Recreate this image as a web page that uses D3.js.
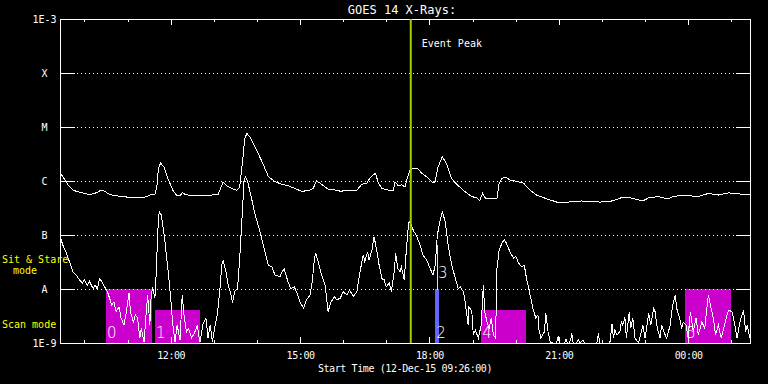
<!DOCTYPE html>
<html lang="en">
<head>
<meta charset="UTF-8" />
<title>GOES 14 X-Rays</title>
<script src="https://d3js.org/d3.v7.min.js"></script>
<style>
  body { margin: 0; background: #000; }
  svg { display: block; background: #000; }
  text { font-family: 'DejaVu Sans Mono', monospace; font-size: 10px; fill: #fff; }
  .axis line, .frame { stroke: #fff; fill: none; shape-rendering: crispEdges; }
  .axis path.domain { display: none; }
  .grid line { stroke: #fff; stroke-dasharray: 1,3; shape-rendering: crispEdges; }
  .flux { fill: none; stroke: #fff; stroke-width: 1; shape-rendering: crispEdges; }
  .yellow { fill: #ff0; }
  .boxnum { font-family: 'DejaVu Sans', sans-serif; font-weight: 200; font-size: 15px; }
</style>
</head>
<body>
<svg width="768" height="384"></svg>
<script>
// start of the plot, span 16 h
const startTime = new Date(Date.UTC(2015, 11, 12, 9, 26));
const spanMinutes = 960;

const levelValues = [1e-9, 1e-8, 1e-7, 1e-6, 1e-5, 1e-4, 1e-3];
const levelLabels = ["1E-9", "A", "B", "C", "M", "X", "1E-3"];

// [minutes after start, log10 flux W/m^2]
const longFlux = [
  [0,-5.85],[1,-5.86],[4,-5.92],[11,-6.07],[18,-6.17],[25,-6.20],[34,-6.23],[41,-6.25],[48,-6.23],[53,-6.20],
  [57,-6.17],[62,-6.19],[69,-6.25],[81,-6.28],[95,-6.30],[104,-6.31],[118,-6.30],[127,-6.25],[132,-6.26],
  [135,-6.07],[137,-5.76],[140,-5.67],[145,-5.75],[150,-5.95],[157,-6.17],[162,-6.26],[168,-6.26],[170,-6.21],
  [174,-6.25],[183,-6.27],[194,-6.27],[211,-6.26],[220,-6.25],[227,-6.02],[232,-6.09],[239,-6.14],[246,-6.17],
  [250,-6.11],[254,-5.64],[257,-5.21],[260,-5.12],[264,-5.18],[271,-5.36],[281,-5.64],[290,-5.92],[299,-6.01],
  [308,-6.06],[318,-6.09],[327,-6.14],[336,-6.19],[345,-6.18],[352,-6.14],[357,-6.00],[364,-6.06],[373,-6.15],
  [385,-6.17],[390,-6.19],[403,-6.17],[413,-6.17],[420,-6.06],[427,-6.04],[431,-5.95],[436,-5.88],[439,-5.86],
  [443,-6.04],[448,-6.14],[457,-6.17],[464,-6.17],[466,-6.02],[471,-6.09],[475,-6.07],[480,-6.11],[483,-5.95],
  [487,-5.80],[492,-5.76],[497,-5.76],[503,-5.85],[512,-5.94],[519,-6.04],[522,-6.01],[526,-5.74],[532,-5.55],
  [538,-5.69],[545,-5.96],[552,-6.06],[561,-6.17],[573,-6.29],[580,-6.31],[584,-6.36],[588,-6.23],[592,-6.32],
  [598,-6.33],[608,-6.32],[611,-6.04],[615,-5.95],[620,-5.93],[626,-5.98],[633,-6.00],[645,-6.04],[654,-6.17],
  [663,-6.26],[675,-6.32],[691,-6.39],[707,-6.39],[726,-6.37],[740,-6.38],[751,-6.39],[765,-6.38],[770,-6.36],
  [781,-6.31],[793,-6.31],[802,-6.34],[811,-6.37],[819,-6.31],[832,-6.29],[846,-6.33],[853,-6.29],[865,-6.26],
  [881,-6.28],[890,-6.28],[902,-6.23],[916,-6.26],[930,-6.22],[946,-6.24],[960,-6.26]
];

const shortFlux = [
  [0,-7.03],[1,-7.06],[4,-7.19],[9,-7.34],[13,-7.49],[18,-7.68],[23,-7.75],[27,-7.83],[31,-7.89],[34,-7.83],
  [38,-7.94],[41,-7.86],[46,-7.99],[49,-7.93],[52,-8.00],[55,-7.81],[58,-7.86],[62,-7.96],[66,-8.05],[69,-8.17],
  [72,-8.30],[75,-8.24],[78,-8.42],[82,-8.33],[85,-8.54],[89,-8.67],[92,-8.45],[96,-8.08],[98,-8.42],[102,-8.61],
  [105,-8.48],[108,-8.54],[111,-8.91],[113,-8.73],[117,-8.98],[120,-8.42],[122,-8.11],[125,-8.67],[127,-8.08],
  [129,-7.99],[132,-8.17],[134,-7.68],[136,-6.94],[138,-6.56],[141,-6.63],[145,-7.00],[148,-7.37],[151,-7.74],
  [154,-8.17],[157,-8.67],[160,-8.98],[163,-8.67],[167,-8.94],[170,-8.12],[173,-8.54],[176,-8.79],[179,-8.73],
  [183,-8.91],[187,-8.82],[191,-8.67],[194,-8.94],[195,-8.98],[199,-8.64],[203,-8.54],[206,-8.91],[209,-8.67],
  [212,-8.98],[215,-8.73],[218,-8.54],[220,-8.33],[223,-7.93],[225,-7.56],[227,-7.48],[231,-7.68],[234,-7.93],
  [238,-8.11],[240,-8.26],[243,-8.05],[247,-7.99],[250,-7.43],[254,-6.51],[256,-6.01],[258,-5.92],[261,-6.01],
  [266,-6.29],[271,-6.60],[277,-6.88],[281,-7.09],[285,-7.31],[290,-7.56],[295,-7.59],[299,-7.74],[306,-7.77],
  [309,-7.68],[312,-7.63],[317,-7.86],[321,-7.99],[326,-7.96],[329,-8.05],[334,-8.24],[339,-8.36],[343,-8.20],
  [348,-8.11],[351,-7.86],[354,-7.43],[356,-7.34],[359,-7.49],[364,-7.74],[369,-7.93],[373,-8.42],[377,-8.24],
  [382,-8.14],[385,-8.20],[390,-8.17],[394,-8.05],[399,-8.11],[403,-8.02],[408,-8.14],[413,-8.05],[416,-7.80],
  [420,-7.49],[422,-7.37],[424,-7.49],[428,-7.31],[430,-7.46],[434,-7.28],[437,-7.03],[441,-7.31],[444,-7.56],
  [448,-7.81],[451,-7.83],[454,-7.96],[458,-7.89],[461,-8.05],[465,-7.68],[467,-7.34],[470,-7.62],[473,-7.68],
  [475,-7.59],[479,-7.83],[481,-7.43],[485,-6.78],[487,-6.75],[492,-6.93],[496,-7.01],[501,-7.19],[505,-7.37],
  [510,-7.46],[515,-7.62],[519,-7.74],[522,-7.56],[525,-7.00],[529,-6.72],[532,-6.58],[536,-6.75],[540,-7.19],
  [545,-7.56],[550,-7.80],[554,-7.99],[557,-7.96],[561,-8.05],[563,-8.17],[566,-8.48],[568,-8.67],[569,-8.33],
  [573,-8.42],[575,-8.85],[578,-8.76],[582,-8.91],[586,-8.67],[589,-7.93],[591,-8.42],[594,-8.61],[597,-8.73],
  [600,-8.54],[603,-8.85],[606,-8.91],[608,-7.62],[611,-7.28],[615,-7.15],[618,-7.09],[621,-7.15],[626,-7.31],
  [631,-7.43],[634,-7.39],[638,-7.52],[642,-7.59],[646,-7.56],[649,-7.80],[654,-8.11],[658,-8.36],[662,-8.54],
  [665,-8.48],[666,-8.73],[669,-8.91],[674,-8.79],[676,-8.45],[679,-8.79],[682,-8.98],[686,-9.20],[691,-9.20],
  [693,-8.88],[695,-9.20],[702,-9.20],[704,-8.92],[706,-9.20],[709,-9.20],[711,-8.90],[712,-8.82],[714,-9.20],
  [719,-9.20],[721,-8.93],[723,-9.20],[728,-8.95],[730,-9.20],[747,-9.20],[749,-8.82],[751,-9.20],[765,-9.20],
  [768,-8.65],[770,-8.91],[772,-8.76],[775,-8.85],[779,-8.79],[781,-8.61],[783,-8.67],[786,-8.53],[788,-8.91],
  [792,-8.42],[794,-8.73],[797,-8.54],[800,-8.91],[805,-9.20],[811,-8.67],[814,-8.91],[819,-8.45],[822,-8.67],
  [826,-8.36],[828,-8.42],[831,-8.73],[835,-8.91],[837,-8.67],[842,-8.85],[844,-8.91],[849,-8.67],[852,-8.33],
  [856,-8.11],[858,-8.36],[862,-8.54],[865,-8.73],[867,-8.61],[871,-8.67],[874,-8.91],[877,-8.42],[881,-8.79],
  [885,-8.54],[888,-8.85],[893,-8.61],[897,-8.73],[902,-8.11],[905,-8.30],[909,-8.54],[912,-8.85],[916,-8.67],
  [920,-8.91],[925,-8.64],[930,-8.39],[935,-8.42],[939,-8.67],[942,-8.91],[946,-8.61],[951,-8.39],[954,-8.79],
  [956,-8.67],[960,-8.91]
];

// observing windows: minutes after start, log10 flux top/bottom
const windowIds    = ["0", "1", "2", "3", "4", "5"];
const windowKinds  = ["scan", "scan", "stare", "stareHi", "scan", "scan"];
const windowStart  = [64, 132, 522, 524.5, 586, 870];
const windowEnd    = [128, 195, 527, 524.5, 648, 934];
const windowTop    = [-8, -8.38, -8, -7.19, -8.38, -8];
const windowBottom = [-9, -9, -9, -8, -9, -9];

const eventPeakMinute = 488;

const margin = {left: 60, right: 18, top: 19, bottom: 41};
const W = 768, H = 384;
const x0 = margin.left, x1 = W - margin.right, y0 = margin.top, y1 = H - margin.bottom;

const svg = d3.select("svg");
const toDate = m => new Date(+startTime + m * 60000);

const x = d3.scaleUtc().domain([startTime, toDate(spanMinutes)]).range([x0, x1]);
const y = d3.scaleLog().domain([1e-9, 1e-3]).range([y1, y0]).clamp(true);

const kindColor = {scan: "#cc00cc", stare: "#6464ff", stareHi: "#ffff00"};

// windows
const win = svg.append("g");
windowIds.forEach((id, i) => {
  const xa = x(toDate(windowStart[i])), xb = x(toDate(windowEnd[i]));
  const yb = y(10 ** windowBottom[i]);
  win.append("rect")
    .attr("x", xa)
    .attr("y", y(10 ** windowTop[i]))
    .attr("width", Math.max(1, xb - xa))
    .attr("height", yb - y(10 ** windowTop[i]))
    .attr("fill", kindColor[windowKinds[i]])
    .attr("shape-rendering", "crispEdges");
  win.append("text")
    .attr("class", "boxnum")
    .attr("x", xa + 1)
    .attr("y", windowKinds[i] === "stareHi" ? yb - 11 : yb - 5)
    .text(id);
});

// dotted level lines
svg.append("g").attr("class", "grid")
  .selectAll("line")
  .data(levelValues.slice(1, -1))
  .join("line")
  .attr("x1", x0 + 17).attr("x2", x1 - 15)
  .attr("y1", d => y(d)).attr("y2", d => y(d));

// flux curves
const line = d3.line()
  .x(d => x(toDate(d[0])))
  .y(d => y(10 ** d[1]));

svg.append("path").datum(longFlux).attr("class", "flux").attr("d", line);
svg.append("path").datum(shortFlux).attr("class", "flux").attr("d", line);

// axes
svg.append("g").attr("class", "axis")
  .attr("transform", `translate(0,${y1})`)
  .call(d3.axisBottom(x).ticks(d3.utcHour.every(1)).tickSize(-3).tickFormat(""));
svg.append("g").attr("class", "axis")
  .attr("transform", `translate(0,${y1})`)
  .call(d3.axisBottom(x).ticks(d3.utcHour.every(3)).tickSize(-6).tickPadding(9)
    .tickFormat(d3.utcFormat("%H:%M")))
  .selectAll("text").attr("letter-spacing", -0.4);
svg.append("g").attr("class", "axis")
  .attr("transform", `translate(0,${y0})`)
  .call(d3.axisTop(x).ticks(d3.utcHour.every(1)).tickSize(-3).tickFormat(""));
svg.append("g").attr("class", "axis")
  .attr("transform", `translate(0,${y0})`)
  .call(d3.axisTop(x).ticks(d3.utcHour.every(3)).tickSize(-6).tickFormat(""));

svg.append("g").attr("class", "axis")
  .attr("transform", `translate(${x0},0)`)
  .call(d3.axisLeft(y).tickValues(levelValues).tickSize(-15).tickPadding(15.5)
    .tickFormat((d, i) => levelLabels[i]))
  .selectAll("text").attr("text-anchor", "middle");
svg.append("g").attr("class", "axis")
  .attr("transform", `translate(${x1},0)`)
  .call(d3.axisRight(y).tickValues(levelValues).tickSize(-14).tickFormat(""));

svg.append("rect").attr("class", "frame")
  .attr("x", x0).attr("y", y0).attr("width", x1 - x0).attr("height", y1 - y0);

// event peak
const xe = x(toDate(eventPeakMinute));
svg.append("line")
  .attr("x1", xe).attr("x2", xe).attr("y1", y0).attr("y2", y1)
  .attr("stroke", "#a0d000").attr("stroke-width", 2);
svg.append("text").attr("x", xe + 11).attr("y", 47).text("Event Peak");

// titles
svg.append("text").attr("x", 402).attr("y", 14).attr("text-anchor", "middle")
  .style("font-size", "12px").text("GOES 14 X-Rays:");
svg.append("text").attr("x", (x0 + x1) / 2).attr("y", 372).attr("text-anchor", "middle")
  .attr("letter-spacing", -0.4)
  .text(`Start Time (${d3.utcFormat("%d-%b-%y %H:%M:%S")(startTime)})`);

svg.append("text").attr("class", "yellow").attr("x", 2).attr("y", 263).text("Sit & Stare");
svg.append("text").attr("class", "yellow").attr("x", 13).attr("y", 274).text("mode");
svg.append("text").attr("class", "yellow").attr("x", 2).attr("y", 328).text("Scan mode");
</script>
</body>
</html>
